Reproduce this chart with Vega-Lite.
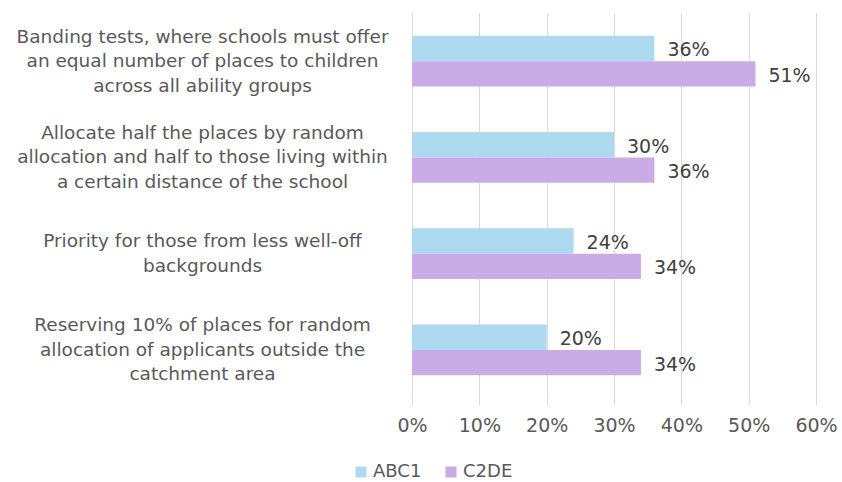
{
  "$schema": "https://vega.github.io/schema/vega-lite/v6.json",
  "autosize": {"type": "none"},
  "padding": {"left": 412, "top": 13, "right": 26, "bottom": 84},
  "width": 404,
  "height": 385,
  "background": "white",
  "config": {
    "view": {"stroke": null},
    "font": "DejaVu Sans"
  },
  "data": {
    "values": [
      {"order": 1, "cat": "Banding tests, where schools must offer|an equal number of places to children|across all ability groups", "group": "ABC1", "value": 0.36},
      {"order": 1, "cat": "Banding tests, where schools must offer|an equal number of places to children|across all ability groups", "group": "C2DE", "value": 0.51},
      {"order": 2, "cat": "Allocate half the places by random|allocation and half to those living within|a certain distance of the school", "group": "ABC1", "value": 0.30},
      {"order": 2, "cat": "Allocate half the places by random|allocation and half to those living within|a certain distance of the school", "group": "C2DE", "value": 0.36},
      {"order": 3, "cat": "Priority for those from less well-off|backgrounds", "group": "ABC1", "value": 0.24},
      {"order": 3, "cat": "Priority for those from less well-off|backgrounds", "group": "C2DE", "value": 0.34},
      {"order": 4, "cat": "Reserving 10% of places for random|allocation of applicants outside the|catchment area", "group": "ABC1", "value": 0.20},
      {"order": 4, "cat": "Reserving 10% of places for random|allocation of applicants outside the|catchment area", "group": "C2DE", "value": 0.34}
    ]
  },
  "encoding": {
    "y": {
      "field": "cat",
      "type": "nominal",
      "sort": {"field": "order"},
      "scale": {"paddingInner": 0.475, "paddingOuter": 0.2375},
      "axis": {
        "title": null,
        "labelExpr": "split(datum.label, '|')",
        "labelAlign": "center",
        "labelBaseline": "middle",
        "labelPadding": 210,
        "labelLimit": 500,
        "labelFontSize": 18.5,
        "labelLineHeight": 24.5,
        "labelColor": "#595959",
        "labelOffset": {"condition": {"test": "indexof(datum.value, 'backgrounds') >= 0", "value": -12.25}, "value": -24.5},
        "ticks": false,
        "domain": true,
        "domainColor": "#d9d9d9"
      }
    },
    "yOffset": {"field": "group", "type": "nominal", "sort": ["ABC1", "C2DE"]},
    "x": {
      "field": "value",
      "type": "quantitative",
      "scale": {"domain": [0, 0.6], "nice": false},
      "axis": {
        "title": null,
        "format": ".0%",
        "values": [0, 0.1, 0.2, 0.3, 0.4, 0.5, 0.6],
        "grid": true,
        "gridColor": "#d9d9d9",
        "domain": false,
        "ticks": true,
        "tickColor": "#d9d9d9",
        "tickSize": 7,
        "labelFontSize": 19,
        "labelColor": "#595959",
        "labelPadding": 11,
        "labelFlush": false,
        "labelOverlap": false,
        "labelBound": false
      }
    }
  },
  "layer": [
    {
      "mark": {"type": "bar"},
      "encoding": {
        "color": {
          "field": "group",
          "type": "nominal",
          "scale": {"domain": ["ABC1", "C2DE"], "range": ["#ADDAEF", "#C9ABE6"]},
          "legend": {
            "title": null,
            "orient": "none",
            "legendX": -60,
            "legendY": 450,
            "direction": "horizontal",
            "symbolType": "square",
            "symbolSize": 121,
            "symbolStrokeWidth": 0,
            "labelFontSize": 18,
            "labelColor": "#595959",
            "columnPadding": 20,
            "labelOffset": 3
          }
        }
      }
    },
    {
      "mark": {"type": "text", "align": "left", "dx": 13, "dy": 2, "fontSize": 19, "color": "#404040", "baseline": "middle"},
      "encoding": {
        "text": {"field": "value", "type": "quantitative", "format": ".0%"}
      }
    }
  ]
}
